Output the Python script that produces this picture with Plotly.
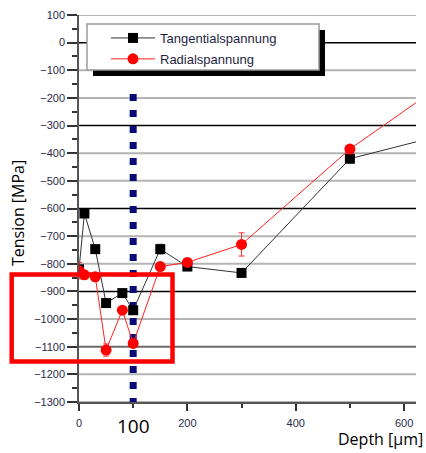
import plotly.graph_objects as go

# ---- data ----
depth_tang = [0, 10, 30, 50, 80, 100, 150, 200, 300, 500, 700]
tangential = [-820, -618, -747, -942, -906, -968, -747, -810, -833, -420, -320]
tangential_err = [0, 0, 0, 0, 0, 0, 18, 0, 0, 15, 0]

depth_rad = [0, 10, 30, 50, 80, 100, 150, 200, 300, 500, 700]
radial = [-825, -840, -847, -1112, -968, -1088, -810, -795, -730, -385, -110]
radial_err = [30, 10, 15, 22, 0, 0, 0, 0, 42, 10, 0]

marker_depth = [100, 100]
marker_span = [-186, -1320]

y_ticks = list(range(100, -1301, -100))
black_grid = [0, -300, -600, -900]
dark_grid = [-1100]
x_ticks = [0, 200, 400, 600]

W, H = 426, 453
L, R, T, B = 79, 10, 15, 51
pw, ph = W - L - R, H - T - B


def px_x(p):
    return (p - L) / pw


def px_y(p):
    return (H - B - p) / ph


tick_col = "#2a2a48"

fig = go.Figure()

fig.add_trace(go.Scatter(
    x=marker_depth, y=marker_span, mode="lines",
    line=dict(color="#0b0b78", width=7, dash="7px,9px"),
    showlegend=False, hoverinfo="skip"))

fig.add_trace(go.Scatter(
    x=depth_tang, y=tangential, name="Tangentialspannung", mode="lines+markers",
    line=dict(color="#333333", width=1),
    marker=dict(symbol="square", size=10, color="#000000"),
    error_y=dict(type="data", array=tangential_err, color="#888888", thickness=1, width=3),
    legendgroup="a"))

fig.add_trace(go.Scatter(
    x=depth_rad, y=radial, name="Radialspannung", mode="lines+markers",
    line=dict(color="#ff2020", width=1),
    marker=dict(symbol="circle", size=11, color="#ff0000"),
    error_y=dict(type="data", array=radial_err, color="#ff3030", thickness=1, width=3),
    legendgroup="b"))

shapes = []
for v in y_ticks:
    if v in black_grid:
        col, w = "#000000", 1.5
    elif v in dark_grid:
        col, w = "#6a6a6a", 2
    else:
        col, w = "#b4b4b4", 2
    shapes.append(dict(type="line", xref="paper", yref="y", x0=0, x1=1, y0=v, y1=v,
                       line=dict(color=col, width=w), layer="below"))

# legend box with shadow
lx0, lx1, ly0, ly1 = 87, 319, 24, 70
shapes.append(dict(type="rect", xref="paper", yref="paper",
                   x0=px_x(lx0 + 6), x1=px_x(lx1 + 6), y0=px_y(ly1 + 6), y1=px_y(ly0 + 6),
                   fillcolor="#000000", line=dict(width=0), layer="above"))
shapes.append(dict(type="rect", xref="paper", yref="paper",
                   x0=px_x(lx0), x1=px_x(lx1), y0=px_y(ly1), y1=px_y(ly0),
                   fillcolor="#ffffff", line=dict(color="#9a9a9a", width=1.5), layer="above"))

# red highlight rectangle
shapes.append(dict(type="rect", xref="paper", yref="paper",
                   x0=px_x(11.7), x1=px_x(172.5), y0=px_y(361.5), y1=px_y(274.5),
                   line=dict(color="#ff0000", width=4.5), layer="above"))

annotations = [
    dict(text="100", xref="x", yref="paper", x=100, y=px_y(426), showarrow=False,
         font=dict(family="Open Sans", size=19, color="#000000"), xanchor="center", yanchor="middle"),
    dict(text="Depth [µm]", xref="paper", yref="paper", x=px_x(425), y=px_y(439), showarrow=False,
         font=dict(family="Open Sans", size=16, color="#000000"), xanchor="right", yanchor="middle"),
    dict(text="Tension [MPa]", xref="paper", yref="paper", x=px_x(18), y=px_y(213), showarrow=False,
         textangle=-90, font=dict(family="Open Sans", size=16, color="#000000"),
         xanchor="center", yanchor="middle"),
]

fig.update_layout(
    width=W, height=H,
    margin=dict(l=L, r=R, t=T, b=B),
    plot_bgcolor="white", paper_bgcolor="white",
    shapes=shapes, annotations=annotations,
    showlegend=True,
    legend=dict(x=px_x(106), y=px_y(23), xanchor="left", yanchor="top",
                bgcolor="rgba(0,0,0,0)", borderwidth=0, tracegroupgap=1, itemwidth=44,
                font=dict(family="Liberation Sans", size=13, color="#1f1f3f")),
    xaxis=dict(range=[0, 622], tickvals=x_ticks, showgrid=False, zeroline=False,
               showline=True, linecolor="#555555", linewidth=1.5,
               ticks="outside", ticklen=7, tickwidth=1.5, tickcolor="#333333",
               minor=dict(dtick=100, ticks="outside", ticklen=4, tickcolor="#333333", showgrid=False),
               tickfont=dict(family="Liberation Sans", size=11, color=tick_col),
               ticklabelstandoff=3),
    yaxis=dict(range=[-1300, 100], tickvals=y_ticks, showgrid=False, zeroline=False,
               showline=True, linecolor="#555555", linewidth=1.5,
               ticks="outside", ticklen=10, tickwidth=1.5, tickcolor="#333333",
               minor=dict(dtick=50, ticks="outside", ticklen=5, tickcolor="#333333", showgrid=False),
               tickfont=dict(family="Liberation Sans", size=11, color=tick_col)),
)

fig.write_html("out.html", config={"displayModeBar": False},
               post_script="document.body.style.margin='0';")
